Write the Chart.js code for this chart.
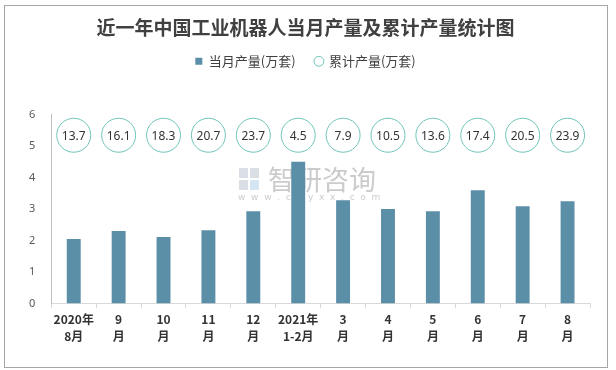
<!DOCTYPE html>
<html lang="zh">

<head>
    <meta charset="utf-8">
    <title>工业机器人产量</title>
    <script src="https://cdn.jsdelivr.net/npm/chart.js@4.4.0/dist/chart.umd.min.js"></script>
    <style>
        body {
            margin: 0;
            padding: 0;
            background-color: #ffffff;
            font-family: 'Noto Sans CJK SC', sans-serif;
        }

        #wrap {
            position: relative;
            width: 616px;
            height: 370px;
        }

        #frame {
            position: absolute;
            left: 4px;
            top: 5px;
            width: 602px;
            height: 361px;
            border: 1px solid #a6a6a6;
            pointer-events: none;
        }
    </style>
</head>

<body>
    <div id="wrap">
        <canvas id="prodChart" width="616" height="370"></canvas>
        <div id="frame"></div>
    </div>

    <script>
        // x axis labels (two lines each)
        const months = [
            ['2020年', '8月'], ['9', '月'], ['10', '月'], ['11', '月'], ['12', '月'],
            ['2021年', '1-2月'], ['3', '月'], ['4', '月'], ['5', '月'], ['6', '月'], ['7', '月'], ['8', '月']
        ];
        // 当月产量(万套)
        const monthly = [2.05, 2.3, 2.11, 2.33, 2.93, 4.51, 3.28, 3.0, 2.93, 3.6, 3.09, 3.25];
        // 累计产量(万套) - shown as labels in the circles
        const cumulative = [13.7, 16.1, 18.3, 20.7, 23.7, 4.5, 7.9, 10.5, 13.6, 17.4, 20.5, 23.9];
        // helper row the circles sit on
        const circleRow = [5.35, 5.35, 5.35, 5.35, 5.35, 5.35, 5.35, 5.35, 5.35, 5.35, 5.35, 5.35];

        const yTicks = [0, 1, 2, 3, 4, 5, 6];

        const barColor = '#5b8ea7';
        const ringColor = '#6fc4b9';

        // numbers inside the circles
        const circleText = {
            id: 'circleText',
            afterDatasetsDraw(chart) {
                const meta = chart.getDatasetMeta(1);
                const ctx = chart.ctx;
                ctx.save();
                ctx.font = '12px "Noto Sans", sans-serif';
                ctx.fillStyle = '#333333';
                ctx.textAlign = 'center';
                ctx.textBaseline = 'middle';
                meta.data.forEach((pt, i) => {
                    ctx.fillText(cumulative[i], pt.x, pt.y + 1);
                });
                ctx.restore();
            }
        };

        // faint watermark behind the bars
        const watermark = {
            id: 'watermark',
            beforeDatasetsDraw(chart) {
                const ctx = chart.ctx;
                ctx.save();
                ctx.fillStyle = 'rgba(150,160,180,0.35)';
                ctx.fillRect(239, 168, 9, 10);
                ctx.fillRect(250, 168, 9, 10);
                ctx.fillRect(239, 180, 9, 10);
                ctx.fillStyle = 'rgba(150,190,220,0.4)';
                ctx.fillRect(250, 180, 9, 10);
                ctx.fillStyle = 'rgba(140,140,140,0.45)';
                ctx.font = '27px "Noto Sans CJK SC", sans-serif';
                ctx.textBaseline = 'middle';
                ctx.fillText('智研咨询', 268, 180);
                ctx.font = '9px "DejaVu Sans", sans-serif';
                ctx.fillText('w  w  w  .  c  h  y  x  x  .  c  o  m', 238, 198);
                ctx.restore();
            }
        };

        // extra room under the legend
        const legendGap = {
            id: 'legendGap',
            beforeInit(chart) {
                const origFit = chart.legend.fit;
                chart.legend.fit = function () {
                    origFit.bind(chart.legend)();
                    this.height += 37;
                };
            }
        };

        const ctx = document.getElementById('prodChart').getContext('2d');

        const prodChart = new Chart(ctx, {
            type: 'bar',
            data: {
                labels: months,
                datasets: [
                    {
                        label: '当月产量(万套)',
                        data: monthly,
                        backgroundColor: barColor,
                        borderColor: barColor,
                        borderWidth: 0,
                        barPercentage: 0.62,
                        categoryPercentage: 0.5,
                        order: 2
                    },
                    {
                        type: 'line',
                        label: '累计产量(万套)',
                        data: circleRow,
                        showLine: false,
                        pointRadius: 17,
                        pointHoverRadius: 17,
                        pointBackgroundColor: '#ffffff',
                        pointBorderColor: ringColor,
                        pointBorderWidth: 1,
                        backgroundColor: '#ffffff',
                        borderColor: ringColor,
                        order: 1
                    }
                ]
            },
            options: {
                responsive: false,
                animation: false,
                layout: {
                    padding: { left: 21, right: 26, top: 6, bottom: 22 }
                },
                plugins: {
                    title: {
                        display: true,
                        text: '近一年中国工业机器人当月产量及累计产量统计图',
                        color: '#404040',
                        font: { family: '"Noto Sans CJK SC", serif', size: 19, weight: 'bold' },
                        padding: { top: 10, bottom: 2 }
                    },
                    legend: {
                        position: 'top',
                        labels: {
                            color: '#404040',
                            font: { family: '"Noto Sans CJK SC", sans-serif', size: 13 },
                            usePointStyle: true,
                            boxWidth: 7,
                            boxHeight: 7,
                            padding: 14,
                            generateLabels(chart) {
                                return [
                                    {
                                        text: '当月产量(万套)  ',
                                        fillStyle: barColor,
                                        strokeStyle: barColor,
                                        lineWidth: 0,
                                        pointStyle: 'rect',
                                        fontColor: '#404040',
                                        datasetIndex: 0
                                    },
                                    {
                                        text: '累计产量(万套)',
                                        fillStyle: '#ffffff',
                                        strokeStyle: ringColor,
                                        lineWidth: 1,
                                        pointStyle: 'circle',
                                        fontColor: '#404040',
                                        datasetIndex: 1
                                    }
                                ];
                            }
                        }
                    },
                    tooltip: { enabled: false }
                },
                scales: {
                    x: {
                        grid: {
                            display: true,
                            drawOnChartArea: false,
                            offset: true,
                            color: '#d9d9d9',
                            tickLength: 5
                        },
                        border: { color: '#d9d9d9' },
                        ticks: {
                            color: '#333333',
                            font: { family: '"Noto Sans CJK SC", sans-serif', size: 12, weight: 'bold', lineHeight: 1.4 },
                            maxRotation: 0,
                            autoSkip: false,
                            padding: 3
                        }
                    },
                    y: {
                        min: 0,
                        max: 6,
                        afterBuildTicks(axis) {
                            axis.ticks = yTicks.map(v => ({ value: v }));
                        },
                        grid: { display: false },
                        border: { color: '#bfbfbf' },
                        ticks: {
                            color: '#595959',
                            font: { family: '"Noto Sans", sans-serif', size: 11 },
                            padding: 8
                        }
                    }
                }
            },
            plugins: [legendGap, watermark, circleText]
        });
    </script>
</body>

</html>
